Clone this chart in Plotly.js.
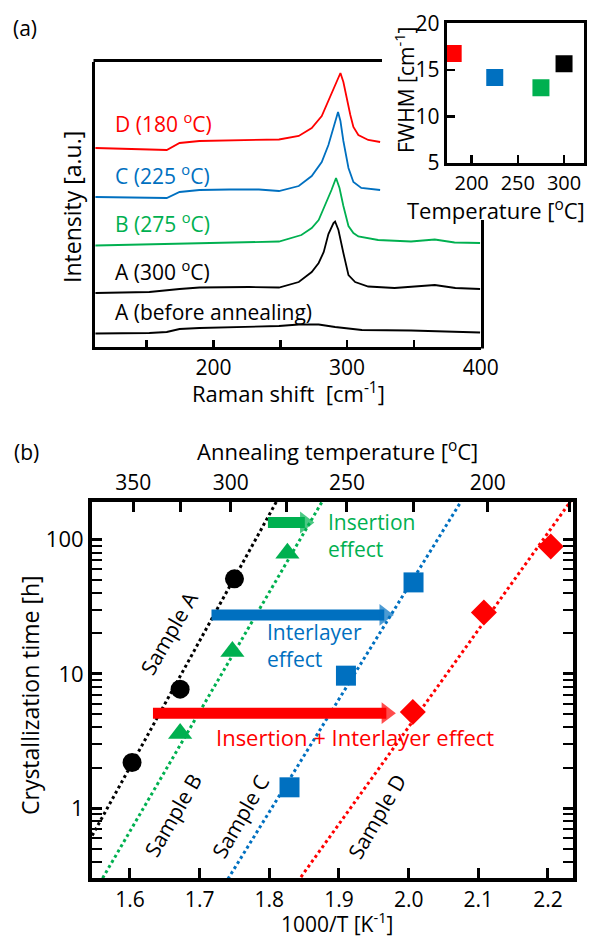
<!DOCTYPE html>
<html><head><meta charset="utf-8">
<script src="https://cdn.plot.ly/plotly-3.0.1.min.js"></script>
<style>html,body{margin:0;padding:0;background:#fff}#c{width:591px;height:940px}</style>
</head><body><div id="c"></div>
<script>
// ---------- Panel (a): Raman spectra (arbitrary offset intensity) ----------
const shiftD = [111.6,130,152,165,174.6,189.5,211.8,234,249,263.8,273.5,281,286,289.8,293.5,295,297.2,299.5,302.4,304.7,308.4,315.8,324.7];
const intD   = [199,198,197.5,197,204,206,206.5,207,207.5,211,219,231,247,259,270,274,265,249,232,220,212,207,205];
const shiftC = [111.6,130,152,165,174.6,189.5,211.8,234,249,263.8,273.5,281,286,289.8,292.3,293.2,295,297.2,301,304.7,310.6,324.7];
const intC   = [150,149.5,149,149,155,157,157.5,157.5,156,161,171,185,202,219,230,235,226,206,179,165,159,157];
const shiftB = [111.6,130,152,189.5,226.7,249,265.8,273.5,278.7,284,288.3,291.7,294.3,297.2,301,304.7,308.4,323.2,347.8,365.6,380.4,399.5];
const intB   = [101.5,102,102.5,104,105,105.5,112,119,127,143,157,169,159,141,121,114,110.5,107,105.5,107.5,104.5,104];
const shiftA = [111.6,130,152,174.6,189.5,226.7,249,263.8,273.5,278.7,282.5,286,289.8,291,293.5,297.2,301,306,315.8,335.5,365.6,381,399.5];
const intA   = [54,54.5,55,58,59.5,60,59.5,65,75,84,95,113,124,125.5,117,94,72,65,60.5,59,62,59,58];
const shiftA0 = [111.6,130,152,165,174.6,189.5,211.8,234,249,263.8,278.7,291,311,347.8,399.5];
const intA0   = [13.5,13.5,14,15,18,19,20,21,21,22.5,22.5,20,17,16.5,14.5];

// inset: FWHM vs annealing temperature
const insetTemp = [180, 225, 275, 300];
const insetFWHM = [16.8, 14.2, 13.1, 15.7];

// ---------- Panel (b): crystallization time vs 1000/T ----------
const invT_A = [1.603, 1.672, 1.750], time_A = [2.19, 7.7, 51];
const invT_B = [1.672, 1.747, 1.826], time_B = [3.6, 14.7, 79];
const invT_C = [1.829, 1.910, 2.007], time_C = [1.43, 9.7, 48];
const invT_D = [2.006, 2.108, 2.204], time_D = [5.2, 28.7, 89];
// fitted (dotted) lines, two points each
const fitX_A = [1.50, 1.84], fitY_A = [0.232, 365];
const fitX_B = [1.50, 1.90], fitY_B = [0.0867, 315];
const fitX_C = [1.65, 2.15], fitY_C = [0.0515, 817];
const fitX_D = [1.75, 2.30], fitY_D = [0.0627, 594];
// arrows (start, head centre, level)
const arrowStart = [1.798, 1.717, 1.633];
const arrowEnd   = [1.851, 1.965, 1.968];
const arrowLevel = [134, 27.5, 5.1];
// axis ticks
const bottomTicks = [1.6,1.7,1.8,1.9,2.0,2.1,2.2];
const topTempsC = [350,325,300,275,250,225,200,175];
const topTempLabels = ['350','','300','','250','','200',''];

const RED='#FF0000', BLUE='#0070C0', GREEN='#00B050', BLACK='#000000';
const arrowColors=[GREEN,BLUE,RED];
const FONT='Open Sans';
const W=591,H=940;
const X=p=>p/W, Y=p=>1-p/H;

const traces=[];
function spec(x,y,c){traces.push({x:x,y:y,xaxis:'x',yaxis:'y',mode:'lines',line:{color:c,width:1.8},hoverinfo:'skip'});}
spec(shiftD,intD,RED); spec(shiftC,intC,BLUE); spec(shiftB,intB,GREEN); spec(shiftA,intA,BLACK); spec(shiftA0,intA0,BLACK);
traces.push({x:insetTemp,y:insetFWHM,xaxis:'x2',yaxis:'y2',mode:'markers',
  marker:{symbol:'square',size:17,color:[RED,BLUE,GREEN,BLACK]}});

function fit(x,y,c){traces.push({x:x,y:y,xaxis:'x4',yaxis:'y4',mode:'lines',line:{color:c,width:3,dash:'dot'}});}
fit(fitX_A,fitY_A,BLACK); fit(fitX_B,fitY_B,GREEN); fit(fitX_C,fitY_C,BLUE); fit(fitX_D,fitY_D,RED);
function pts(x,y,c,s,sz){traces.push({x:x,y:y,xaxis:'x4',yaxis:'y4',mode:'markers',marker:{symbol:s,size:sz,color:c}});}
pts(invT_A,time_A,BLACK,'circle',19); pts(invT_B,time_B,GREEN,'triangle-up',21);
pts(invT_C,time_C,BLUE,'square',20); pts(invT_D,time_D,RED,'diamond',20);
for(let i=0;i<arrowStart.length;i++){
  traces.push({x:[arrowStart[i],arrowEnd[i]],y:[arrowLevel[i],arrowLevel[i]],xaxis:'x4',yaxis:'y4',
    mode:'lines+markers',line:{color:arrowColors[i],width:11},
    marker:{symbol:'triangle-right',size:[0,19],color:arrowColors[i],line:{width:0}}});
}
traces.push({x:[],y:[],xaxis:'x5',yaxis:'y4',mode:'markers'});

const tf={family:FONT,size:22,color:'#000'};
const tf21={family:FONT,size:21,color:'#000'};
const tfi={family:FONT,size:20,color:'#000'};
const layout={
  width:W,height:H,margin:{l:0,r:0,t:0,b:0},showlegend:false,
  paper_bgcolor:'#fff',plot_bgcolor:'rgba(0,0,0,0)',font:{family:FONT,size:21,color:'#000'},
  xaxis:{domain:[X(95),X(481)],anchor:'y',range:[111.3,400.2],tickmode:'array',
    tickvals:[150,200,250,300,350,400],ticktext:['','200','','300','','400'],
    ticks:'inside',ticklen:7,tickwidth:2.5,tickcolor:'#000',showline:true,linewidth:3,linecolor:'#000',
    showgrid:false,zeroline:false,tickfont:tf21},
  yaxis:{domain:[Y(347),Y(62)],anchor:'x',range:[0,285],showticklabels:false,ticks:'',
    showline:true,linewidth:3,linecolor:'#000',showgrid:false,zeroline:false},
  xaxis2:{domain:[X(446.7),X(584)],anchor:'y2',range:[173,321.6],tickmode:'array',tickvals:[200,250,300],
    ticks:'inside',ticklen:8,tickwidth:2.5,tickcolor:'#000',showline:true,mirror:true,linewidth:3,linecolor:'#000',
    showgrid:false,zeroline:false,tickfont:tfi},
  yaxis2:{domain:[Y(163.3),Y(23.3)],anchor:'x2',range:[4.95,20.05],tickmode:'array',tickvals:[5,10,15,20],
    ticks:'inside',ticklen:8,tickwidth:2.5,tickcolor:'#000',showline:true,mirror:true,linewidth:3,linecolor:'#000',
    showgrid:false,zeroline:false,tickfont:tf21},
  xaxis4:{domain:[X(92),X(573)],anchor:'y4',range:[1.5455,2.2359],tickmode:'array',tickvals:bottomTicks,
    ticktext:bottomTicks.map(v=>v.toFixed(1)),ticks:'inside',ticklen:10,tickwidth:3,tickcolor:'#000',
    showline:true,linewidth:4,linecolor:'#000',showgrid:false,zeroline:false,tickfont:tf21},
  xaxis5:{overlaying:'x4',side:'top',anchor:'y4',range:[1.5455,2.2359],tickmode:'array',
    tickvals:topTempsC.map(t=>1000/(t+273.15)),ticktext:topTempLabels,ticks:'inside',ticklen:10,tickwidth:3,
    tickcolor:'#000',showline:true,linewidth:4,linecolor:'#000',showgrid:false,zeroline:false,tickfont:tf21},
  yaxis4:{domain:[Y(878),Y(502)],anchor:'x4',type:'log',range:[-0.52,2.28],tickmode:'array',
    tickvals:[1,10,100],ticktext:['1','10','100'],ticks:'inside',ticklen:10,tickwidth:3,tickcolor:'#000',
    mirror:'allticks',showline:true,linewidth:4,linecolor:'#000',showgrid:false,zeroline:false,tickfont:tf,
    minor:{tickmode:'array',tickvals:[0.4,0.5,0.6,0.7,0.8,0.9,2,3,4,5,6,7,8,9,20,30,40,50,60,70,80,90],
      ticks:'inside',ticklen:5,tickwidth:2,tickcolor:'#000',showgrid:false}},
  shapes:[
    {type:'line',xref:'paper',yref:'paper',x0:X(93.5),x1:X(382),y0:Y(60.5),y1:Y(60.5),line:{color:'#000',width:3}},
    {type:'line',xref:'paper',yref:'paper',x0:X(482.5),x1:X(482.5),y0:Y(220),y1:Y(348.5),line:{color:'#000',width:3}}
  ],
  annotations:[]
};
function ann(text,x,y,o){layout.annotations.push(Object.assign({text:text,xref:'paper',yref:'paper',x:X(x),y:Y(y),
  showarrow:false,xanchor:'center',yanchor:'middle',font:{family:FONT,size:21,color:'#000'}},o||{}));}
const T23={family:FONT,size:23,color:'#000'};
const T22={family:FONT,size:22,color:'#000'};
ann('(a)',25,28); ann('(b)',26,452);
ann('Raman shift&nbsp; [cm<sup>-1</sup>]',288,393,{font:T22});
ann('Intensity [a.u.]',72,207,{textangle:-90,font:T23});
ann('FWHM [cm<sup>-1</sup>]',405,90,{textangle:-90,font:{family:FONT,size:21,color:'#000'}});
ann('Temperature [<sup>o</sup>C]',496,210,{font:T22});
ann('D (180 <sup>o</sup>C)',113,122,{xanchor:'left',font:{family:FONT,size:21,color:RED}});
ann('C (225 <sup>o</sup>C)',113,174,{xanchor:'left',font:{family:FONT,size:21,color:BLUE}});
ann('B (275 <sup>o</sup>C)',113,223,{xanchor:'left',font:{family:FONT,size:21,color:GREEN}});
ann('A (300 <sup>o</sup>C)',113,271,{xanchor:'left'});
ann('A (before annealing)',113,312,{xanchor:'left'});
ann('Annealing temperature [<sup>o</sup>C]',337,450,{font:T22});
ann('1000/T [K<sup>-1</sup>]',337,940,{yanchor:'bottom',font:{family:FONT,size:21,color:'#000'}});
ann('Crystallization time [h]',30,695,{textangle:-90,font:T23});
const A=(c,s)=>({family:FONT,size:s,color:c});
ann('Insertion<br>effect',326,535,{xanchor:'left',align:'left',font:A(GREEN,21)});
ann('Interlayer<br>effect',265,645,{xanchor:'left',align:'left',font:A(BLUE,21)});
ann('Insertion + Interlayer effect',214,737,{xanchor:'left',font:A(RED,22)});
ann('Sample A',169,633,{textangle:-60});
ann('Sample B',173,815,{textangle:-60});
ann('Sample C',240,817,{textangle:-60});
ann('Sample D',377,816,{textangle:-60});

Plotly.newPlot('c',traces,layout,{displayModeBar:false,staticPlot:true});
</script></body></html>
